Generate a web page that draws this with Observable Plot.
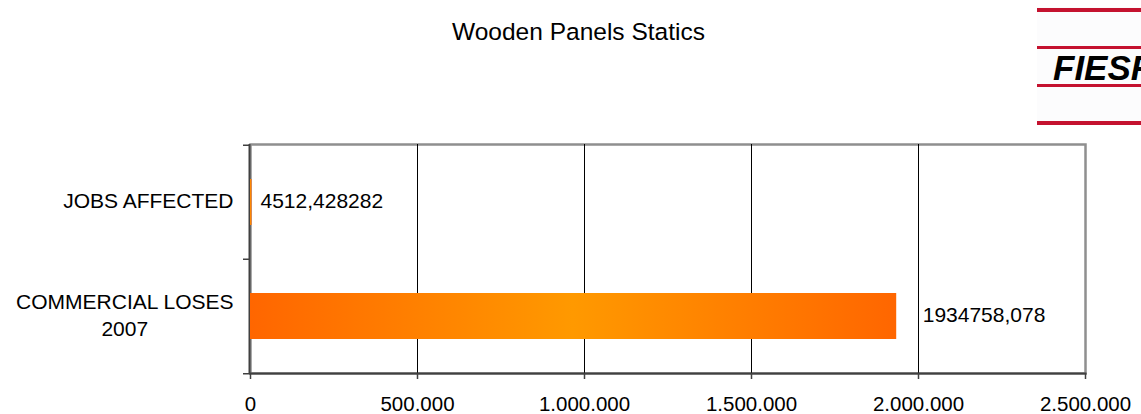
<!DOCTYPE html>
<html><head><meta charset="utf-8">
<script src="https://cdn.jsdelivr.net/npm/d3@7"></script>
<script src="https://cdn.jsdelivr.net/npm/@observablehq/plot@0.6"></script>
<style>
body{margin:0;background:#fff;}
#wrap{position:relative;width:1141px;height:414px;overflow:hidden;font-family:"Liberation Sans",Arial,sans-serif;background:#fff;}
#title{position:absolute;left:0;top:20px;width:1157px;text-align:center;font-size:24.5px;line-height:24px;color:#000;white-space:nowrap;}
#logo{position:absolute;left:1037px;top:7px;width:110px;height:118px;background:#fcfcfd;overflow:hidden;}
#logo .rl{position:absolute;left:0;width:110px;height:3px;background:#c4122f;}
#logo .tx{position:absolute;left:16px;top:43px;font-size:35px;line-height:35px;font-weight:bold;font-style:italic;color:#000;white-space:nowrap;}
</style></head>
<body>
<div id="wrap">
  <div id="chart"></div>
  <div id="title"></div>
  <div id="logo">
    <div class="rl" style="top:1px;height:4px"></div>
    <div class="rl" style="top:39px"></div>
    <div class="rl" style="top:77px"></div>
    <div class="rl" style="top:114px;height:4px"></div>
    <div class="tx" id="logotext"></div>
  </div>
</div>
<script>
const title = "Wooden Panels Statics";
const logoText = "FIESP";
const categories = ["JOBS AFFECTED", "COMMERCIAL LOSES\n2007"];
const values = [4512.428282, 1934758.078];
const valueLabels = ["4512,428282", "1934758,078"];
const xTicks = [0, 500000, 1000000, 1500000, 2000000, 2500000];
const xTickLabels = ["0", "500.000", "1.000.000", "1.500.000", "2.000.000", "2.500.000"];
const xDomain = [0, 2500000];

document.getElementById("title").textContent = title;
document.getElementById("logotext").textContent = logoText;

const rows = categories.map((c, i) => ({category: c, value: values[i], label: valueLabels[i]}));

const W = 1141, H = 414, mt = 144, mb = 41, ml = 250, mr = 56;
const halfBand = (H - mt - mb) / categories.length / 2;

const plot = Plot.plot({
  width: W, height: H,
  marginTop: mt, marginBottom: mb, marginLeft: ml, marginRight: mr,
  style: {fontFamily: '"Liberation Sans", Arial, sans-serif', fontSize: "20.5px", color: "#000", background: "transparent", overflow: "visible"},
  x: {domain: xDomain, label: null},
  y: {domain: categories, padding: 0, label: null},
  marks: [
    Plot.frame({stroke: "#8f8f8f", strokeWidth: 2.5}),
    Plot.gridX(xTicks.slice(1, -1), {stroke: "#000", strokeOpacity: 1, strokeWidth: 1}),
    Plot.ruleX([0], {stroke: "#404040", strokeWidth: 2, dx: -1}),
    Plot.barX(rows, {x: "value", y: "category", fill: "url(#barGrad)", insetTop: 34, insetBottom: 34}),
    Plot.frame({anchor: "bottom", stroke: "#404040", strokeWidth: 2}),
    Plot.axisY({tickSize: 0, tickPadding: 17, fontSize: 21, lineHeight: 1.29, fill: "#000", dy: -3, label: null}),
    Plot.axisY({tickSize: 7, tickFormat: () => "", dy: -halfBand, stroke: "#404040", strokeWidth: 1.5, label: null}),
    Plot.axisY(categories.slice(-1), {tickSize: 7, tickFormat: () => "", dy: halfBand, stroke: "#404040", strokeWidth: 1.5, label: null}),
    Plot.axisX({ticks: xTicks, tickSize: 6, tickPadding: 17, stroke: "#404040", strokeWidth: 1.5, fill: "#000", label: null,
      tickFormat: d => xTickLabels[xTicks.indexOf(d)], fontSize: 20.5}),
    Plot.text(rows.slice(0, 1), {x: "value", y: "category", text: "label", textAnchor: "start", dx: 8.5, dy: -1, fontSize: 21, fill: "#000"}),
    Plot.text(rows.slice(1), {x: "value", y: "category", text: "label", textAnchor: "start", dx: 26, dy: -1, fontSize: 21, fill: "#000"})
  ]
});

const ns = "http://www.w3.org/2000/svg";
const defs = document.createElementNS(ns, "defs");
const grad = document.createElementNS(ns, "linearGradient");
grad.setAttribute("id", "barGrad");
grad.setAttribute("x1", "0"); grad.setAttribute("x2", "1");
grad.setAttribute("y1", "0"); grad.setAttribute("y2", "0");
[["0%", "#ff6600"], ["50%", "#ff9900"], ["100%", "#ff6600"]].forEach(([o, c]) => {
  const s = document.createElementNS(ns, "stop");
  s.setAttribute("offset", o); s.setAttribute("stop-color", c);
  grad.appendChild(s);
});
defs.appendChild(grad);
plot.insertBefore(defs, plot.firstChild);

document.getElementById("chart").appendChild(plot);

// center multi-line category labels under their longest line, right edge kept
plot.querySelectorAll('g[aria-label="y-axis tick label"] text').forEach(t => {
  const spans = t.querySelectorAll("tspan");
  if (spans.length > 1) {
    const w = t.getBBox().width;
    t.setAttribute("text-anchor", "middle");
    spans.forEach(s => s.setAttribute("x", -w / 2));
  }
});
</script>
</body></html>
